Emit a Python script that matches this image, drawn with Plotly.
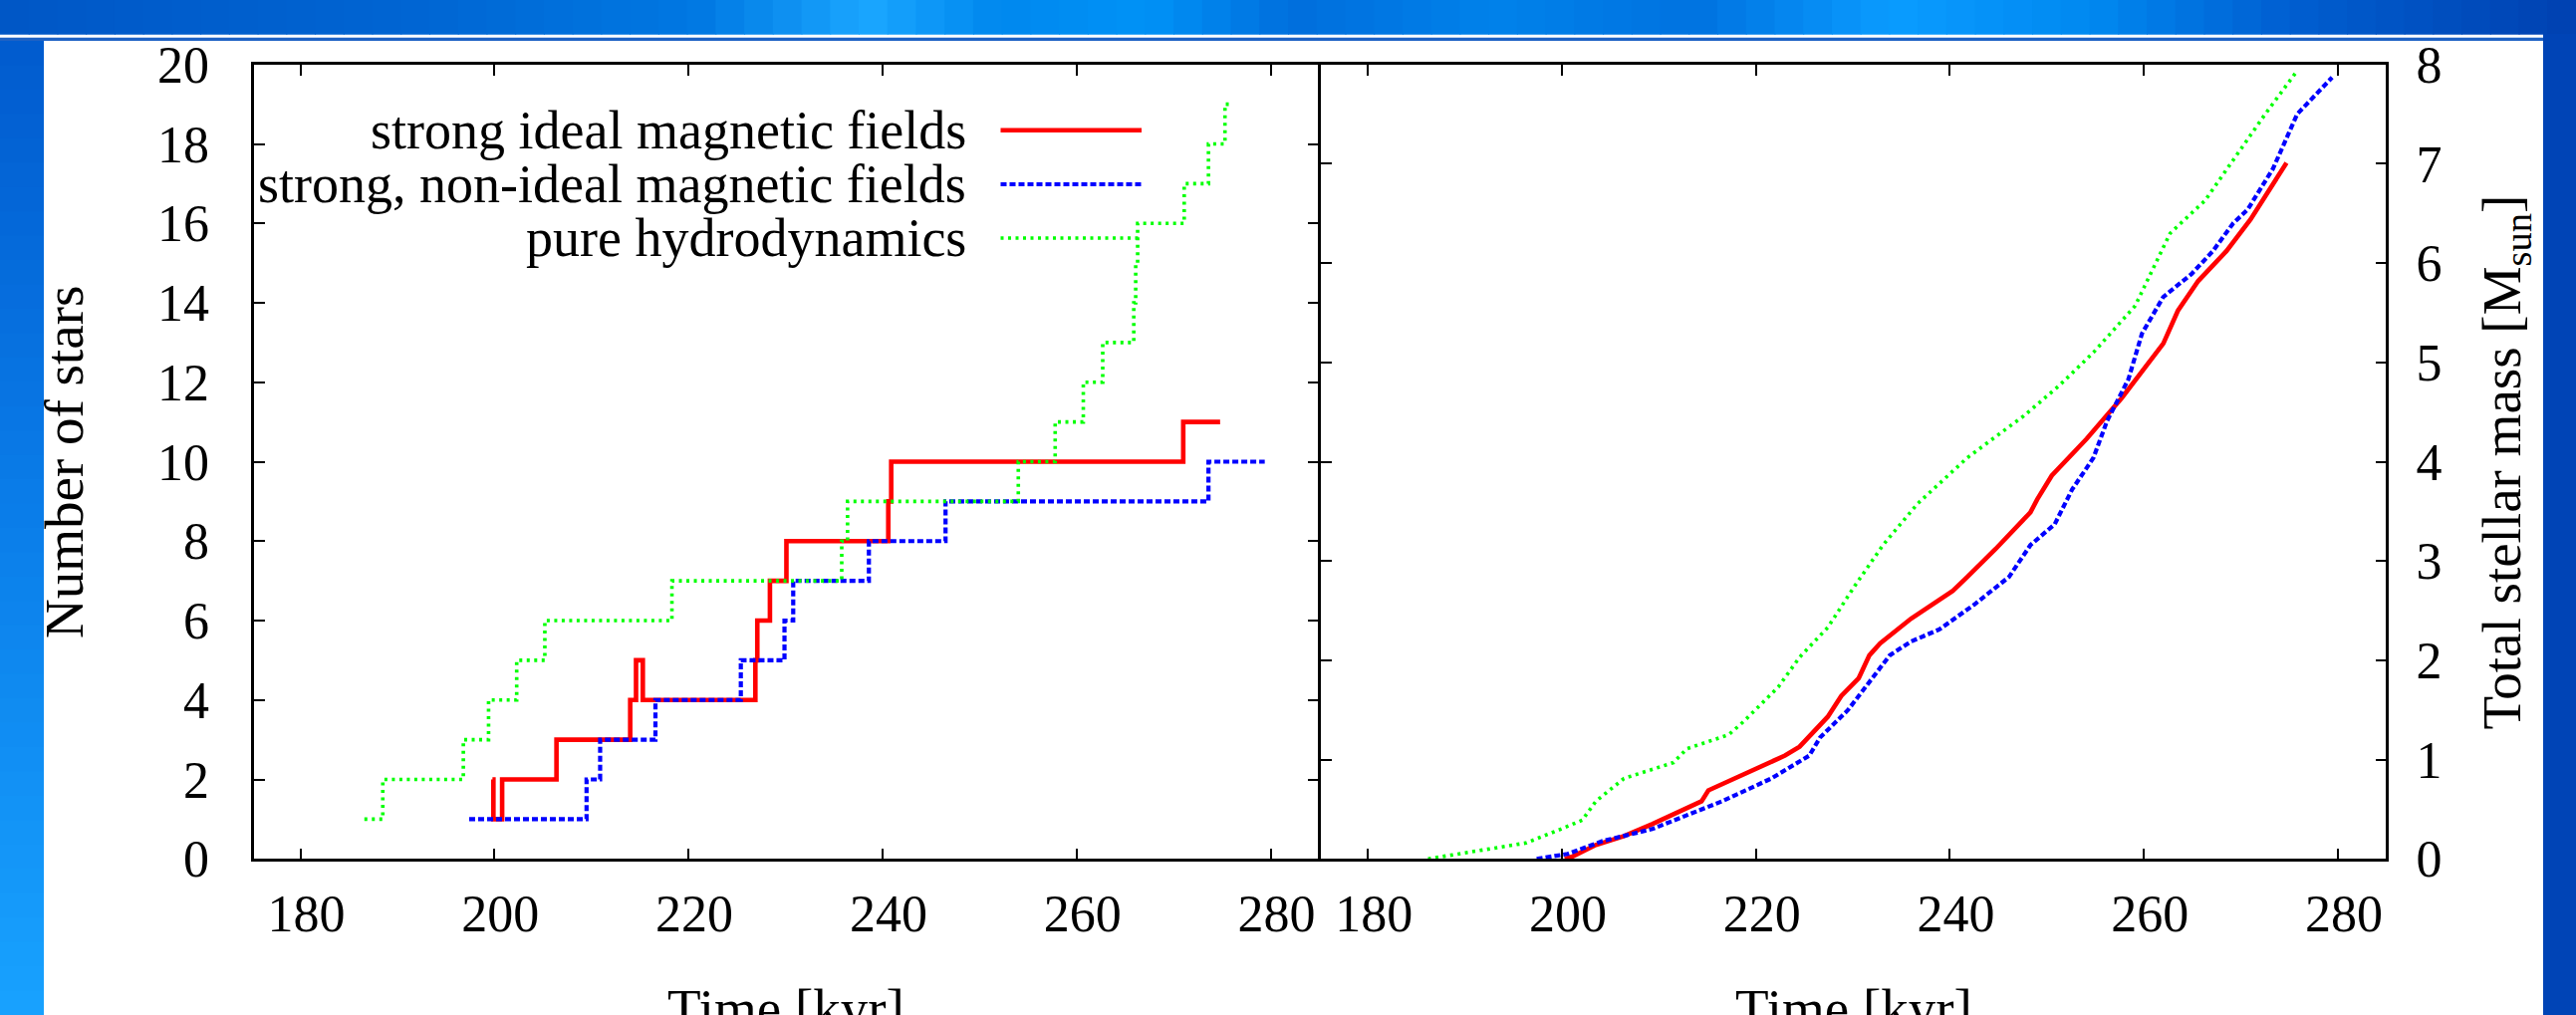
import plotly.graph_objects as go

W, H = 2586, 1019

# ---------------- data ----------------
x_ticks = [180, 200, 220, 240, 260, 280]
star_ticks = [0, 2, 4, 6, 8, 10, 12, 14, 16, 18, 20]
mass_ticks = [0, 1, 2, 3, 4, 5, 6, 7, 8]

series_names = ["strong ideal magnetic fields",
                "strong, non-ideal magnetic fields",
                "pure hydrodynamics"]

# Number of stars (step curves)
stars_time_ideal = [199.8, 199.9, 200.8, 206.4, 214.0, 214.6, 215.3, 226.9, 227.1,
                    228.4, 230.1, 240.6, 240.9, 271.0, 274.8]
stars_ideal = [2, 1, 2, 3, 4, 5, 4, 5, 6, 7, 8, 9, 10, 11, 11]

stars_time_nonideal = [197.4, 209.5, 210.9, 216.6, 225.4, 229.9, 230.8, 238.6,
                       246.5, 273.6, 279.4]
stars_nonideal = [1, 2, 3, 4, 5, 6, 7, 8, 9, 10, 10]

stars_time_hydro = [186.6, 188.5, 196.8, 199.4, 202.3, 205.2, 218.3, 235.8, 236.4,
                    254.0, 257.8, 260.7, 262.7, 265.9, 266.1, 266.3, 271.1, 273.6,
                    275.3, 275.8]
stars_hydro = [1, 2, 3, 4, 5, 6, 7, 8, 9, 10, 11, 12, 13, 14, 15, 16, 17, 18, 19, 19]

# Total stellar mass [M_sun]
mass_time_ideal = [200.3, 201.0, 203.5, 206.4, 209.3, 212.2, 214.4, 215.1, 219.4,
                   223.0, 224.5, 225.9, 227.4, 228.8, 230.6, 231.7, 232.8, 236.0,
                   240.3, 241.8, 244.7, 248.3, 249.0, 250.5, 254.1, 257.7, 262.0,
                   263.5, 265.6, 268.5, 271.0, 274.7]
mass_ideal = [0.0, 0.02, 0.14, 0.23, 0.35, 0.48, 0.58, 0.69, 0.88, 1.04, 1.13, 1.27,
              1.43, 1.64, 1.82, 2.05, 2.17, 2.42, 2.70, 2.84, 3.12, 3.49, 3.62, 3.86,
              4.23, 4.64, 5.19, 5.52, 5.82, 6.12, 6.44, 7.01]

mass_time_nonideal = [197.4, 200.6, 204.2, 209.3, 216.5, 221.6, 225.5, 226.6, 229.5,
                      231.7, 233.8, 236.0, 238.9, 242.5, 246.1, 248.3, 250.8, 252.6,
                      254.8, 256.2, 258.4, 259.8, 262.0, 264.9, 267.1, 269.2, 270.7,
                      273.3, 275.8, 279.4]
mass_nonideal = [0.0, 0.05, 0.18, 0.30, 0.58, 0.81, 1.04, 1.22, 1.50, 1.78, 2.05,
                 2.19, 2.31, 2.56, 2.84, 3.16, 3.37, 3.72, 4.04, 4.41, 4.83, 5.29,
                 5.66, 5.89, 6.12, 6.40, 6.54, 6.95, 7.50, 7.87]

mass_time_hydro = [186.2, 196.3, 199.9, 202.1, 203.5, 206.4, 211.5, 212.9, 217.2,
                   218.7, 222.3, 224.5, 227.4, 230.2, 233.1, 236.7, 241.8, 247.6,
                   251.2, 254.8, 259.1, 262.7, 266.3, 269.9, 272.5, 275.6]
mass_hydro = [0.0, 0.16, 0.30, 0.39, 0.58, 0.81, 0.97, 1.11, 1.25, 1.38, 1.73, 2.03,
              2.33, 2.75, 3.16, 3.58, 4.04, 4.46, 4.76, 5.10, 5.57, 6.30, 6.63, 7.14,
              7.50, 7.91]

# ---------------- styles ----------------
FONT = "Liberation Serif"
FS_TICK = 52
FS = 55
FS_LEG = 54
LW = 2.5  # frame line width
styles = [
    dict(color="#ff0000", width=4.6, dash="solid"),
    dict(color="#0000ff", width=4.2, dash="6px,3px"),
    dict(color="#00ff00", width=3.6, dash="3px,4.5px"),
]


def px(x):
    return x / W


def py(y):
    return 1 - y / H


fig = go.Figure()

star_sets = [(stars_time_ideal, stars_ideal), (stars_time_nonideal, stars_nonideal),
             (stars_time_hydro, stars_hydro)]
mass_sets = [(mass_time_ideal, mass_ideal), (mass_time_nonideal, mass_nonideal),
             (mass_time_hydro, mass_hydro)]

for name, (t, n), st in zip(series_names, star_sets, styles):
    fig.add_trace(go.Scatter(x=t, y=n, mode="lines", name=name, line_shape="hv",
                             line=st, xaxis="x", yaxis="y", showlegend=False))
for name, (t, m), st in zip(series_names, mass_sets, styles):
    fig.add_trace(go.Scatter(x=t, y=m, mode="lines", name=name,
                             line=st, xaxis="x2", yaxis="y2", showlegend=False))

axis_common = dict(showline=True, linecolor="black", linewidth=LW, mirror="ticks",
                   ticks="inside", ticklen=11, tickwidth=2, tickcolor="black",
                   showgrid=False, zeroline=False, automargin=False,
                   tickfont=dict(family=FONT, size=FS_TICK, color="black"))

frame_left, frame_mid, frame_right = 254.0, 1324.5, 2396.5
frame_top, frame_bottom = 63.5, 863.5
h = LW / 2
ydom = [py(frame_bottom - h), py(frame_top + h)]
x1dom = [frame_left + h, frame_mid - h]
x2dom = [frame_mid + h, frame_right - h]
# pixel positions of the 180 / 280 ticks
k1 = (1275.5 - 301.5) / 100.0
k2 = (2347.0 - 1373.2) / 100.0
x1range = [180 - (301.5 - x1dom[0]) / k1, 280 + (x1dom[1] - 1275.5) / k1]
x2range = [180 - (1373.2 - x2dom[0]) / k2, 280 + (x2dom[1] - 2347.0) / k2]

fig.update_layout(
    width=W, height=H, autosize=False, template="none",
    margin=dict(l=0, r=0, t=0, b=0, pad=0),
    paper_bgcolor="white", plot_bgcolor="white",
    xaxis=dict(domain=[px(x1dom[0]), px(x1dom[1])], range=x1range, tickmode="array",
               tickvals=x_ticks, anchor="y", ticklabelstandoff=8, ticklabelshift=6,
               **axis_common),
    yaxis=dict(domain=ydom, range=[0, 20], tickmode="array", tickvals=star_ticks,
               anchor="x", ticklabelstandoff=32, **axis_common),
    xaxis2=dict(domain=[px(x2dom[0]), px(x2dom[1])], range=x2range, tickmode="array",
                tickvals=x_ticks, anchor="y2", ticklabelstandoff=8, ticklabelshift=6,
                **axis_common),
    yaxis2=dict(domain=ydom, range=[0, 8], tickmode="array", tickvals=mass_ticks,
                anchor="x2", side="right", ticklabelstandoff=17, **axis_common),
)

# ---------------- slide background ----------------
def hex2rgb(hx):
    hx = hx.lstrip("#")
    return [int(hx[i:i + 2], 16) for i in (0, 2, 4)]


def interp(stops, v):
    for (a, ca), (b, cb) in zip(stops[:-1], stops[1:]):
        if a <= v <= b:
            f = (v - a) / (b - a) if b > a else 0
            r1, r2 = hex2rgb(ca), hex2rgb(cb)
            return "rgb(%d,%d,%d)" % tuple(round(r1[i] + (r2[i] - r1[i]) * f) for i in range(3))
    return stops[-1][1]


top_stops = [(0, "#0056c6"), (400, "#0064d2"), (700, "#0078e2"), (870, "#1aa6ff"),
             (1000, "#0088ee"), (1150, "#0092f6"), (1300, "#006edc"), (1500, "#0082ea"),
             (1700, "#0072e0"), (1900, "#0a9cff"), (2100, "#0088f0"), (2300, "#005ed0"),
             (2586, "#0040b0")]
left_stops = [(0, "#0058cc"), (500, "#0a7ce8"), (1019, "#18a2ff")]

shapes = []
nstrip = 90
sw = W / nstrip
for i in range(nstrip):
    x0 = i * sw
    shapes.append(dict(type="rect", xref="paper", yref="paper", layer="below",
                       x0=px(x0), x1=px(min(W, x0 + sw + 1)), y0=py(34.7), y1=1,
                       fillcolor=interp(top_stops, x0 + sw / 2), line=dict(width=0)))
nb = 40
bh = (H - 41) / nb
for i in range(nb):
    y0 = 41 + i * bh
    shapes.append(dict(type="rect", xref="paper", yref="paper", layer="below",
                       x0=0, x1=px(44), y0=py(min(H, y0 + bh + 1)), y1=py(y0),
                       fillcolor=interp(left_stops, y0 + bh / 2), line=dict(width=0)))
shapes.append(dict(type="rect", xref="paper", yref="paper", layer="below",
                   x0=0, x1=px(2553), y0=py(41), y1=py(37.7),
                   fillcolor="#1e62c4", line=dict(width=0)))
shapes.append(dict(type="rect", xref="paper", yref="paper", layer="below",
                   x0=px(2553), x1=1, y0=0, y1=py(34),
                   fillcolor="#0044b6", line=dict(width=0)))

# ---------------- legend (gnuplot style: text left, sample right) ----------------
legend_rows = [130.7, 185.0, 239.0]
annotations = []
for name, st, yr in zip(series_names, styles, legend_rows):
    annotations.append(dict(text=name, xref="paper", yref="paper", x=px(972), y=py(yr),
                            xanchor="right", yanchor="middle", showarrow=False,
                            font=dict(family=FONT, size=FS_LEG, color="black")))
    shapes.append(dict(type="line", xref="paper", yref="paper", x0=px(1004.5),
                       x1=px(1146), y0=py(yr), y1=py(yr),
                       line=dict(color=st["color"], width=st["width"], dash=st["dash"])))

# ---------------- axis titles ----------------
title_font = dict(family=FONT, size=FS, color="black")
annotations += [
    dict(text="Number of stars", xref="paper", yref="paper", x=px(64), y=py(464),
         xanchor="center", yanchor="middle", textangle=-90, showarrow=False,
         font=title_font),
    dict(text="Total stellar mass [M<sub>sun</sub>]", xref="paper", yref="paper",
         x=px(2515), y=py(464.5), xanchor="center", yanchor="middle", textangle=-90,
         showarrow=False, font=title_font),
    dict(text="Time [kyr]", xref="paper", yref="paper", x=px(788.75), y=py(980),
         xanchor="center", yanchor="top", showarrow=False, font=title_font),
    dict(text="Time [kyr]", xref="paper", yref="paper", x=px(1860.5), y=py(980),
         xanchor="center", yanchor="top", showarrow=False, font=title_font),
]

fig.update_layout(shapes=shapes, annotations=annotations)

fig.write_html("out.html", config={"displayModeBar": False},
               post_script="document.body.style.margin='0';document.body.style.overflow='hidden';")
